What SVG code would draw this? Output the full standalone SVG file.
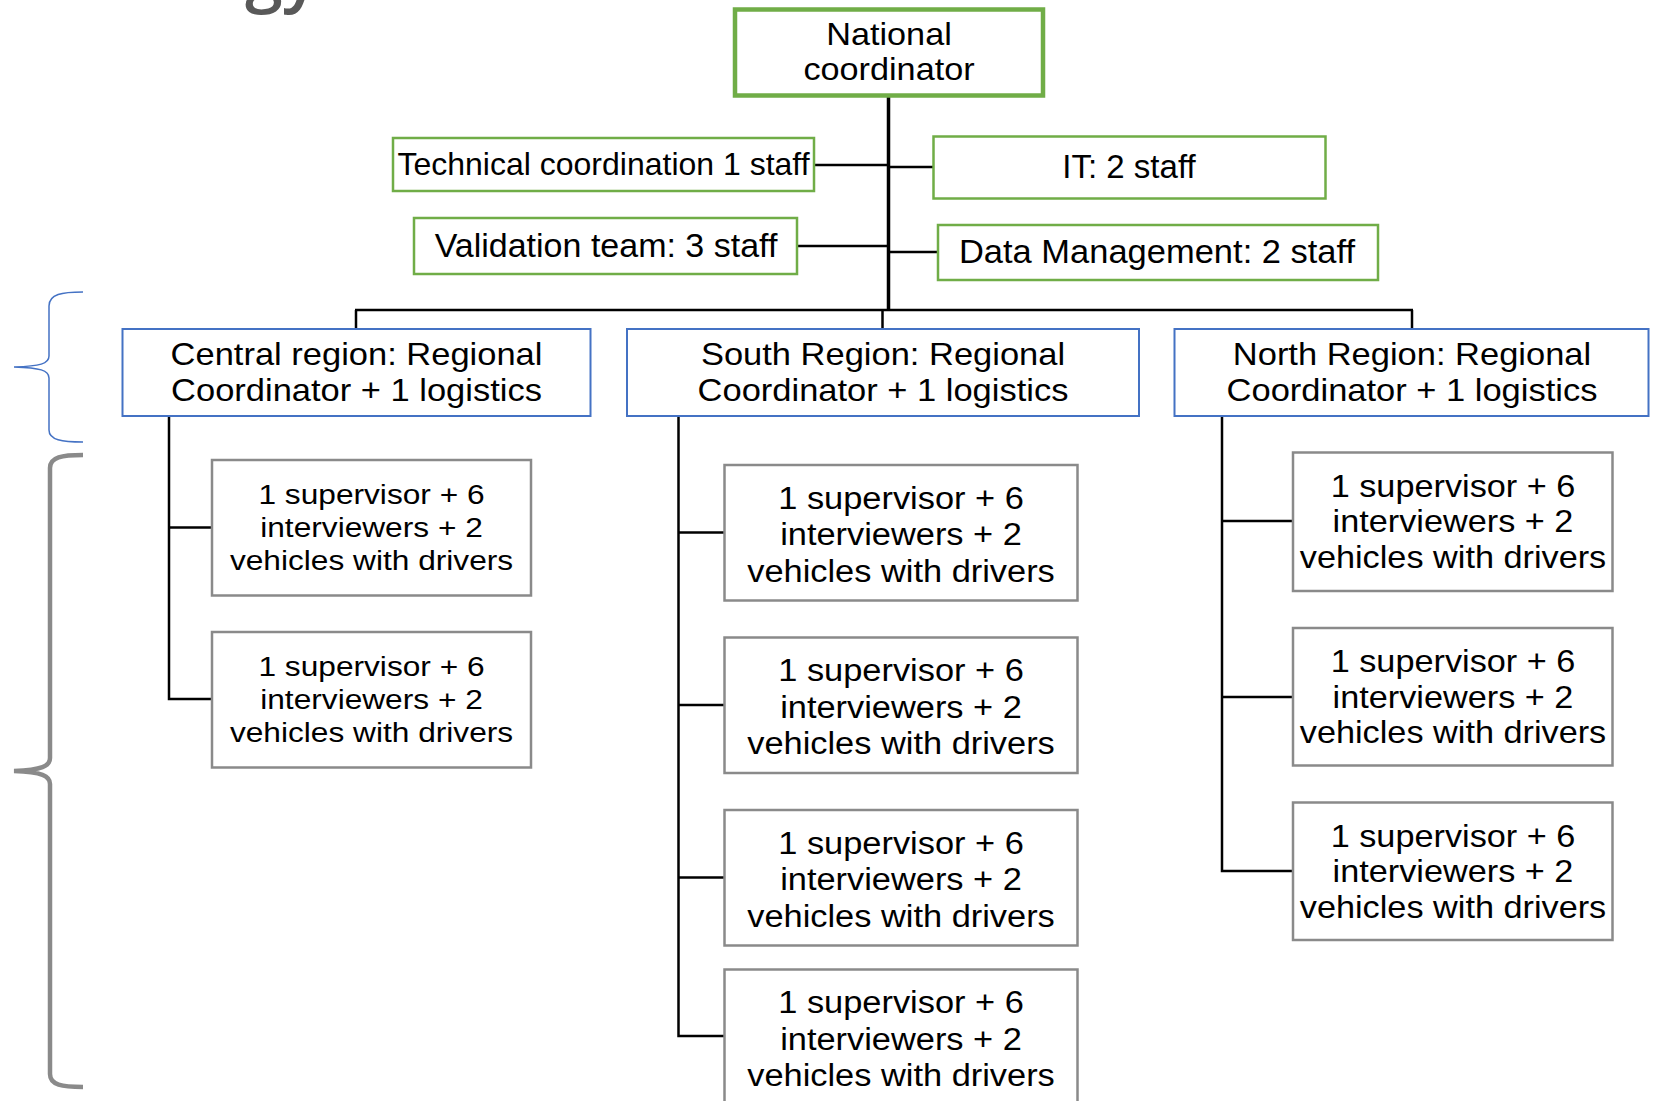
<svg xmlns="http://www.w3.org/2000/svg" width="1658" height="1101" viewBox="0 0 1658 1101">
<style>
text{font-family:"Liberation Sans",Arial,sans-serif;fill:#000;text-anchor:middle}
.g{fill:#fff;stroke:#70AD47;stroke-width:2.5}
.gt{fill:#fff;stroke:#70AD47;stroke-width:4.5}
.b{fill:#fff;stroke:#4472C4;stroke-width:2}
.s{fill:#fff;stroke:#8A8A8A;stroke-width:2.5}
.c line,.c path{stroke:#000;stroke-width:2.5;fill:none}
.title{font-family:"Open Sans","Noto Sans",sans-serif;fill:#595959;text-anchor:end;font-size:68px;font-weight:600}
</style>
<rect width="1658" height="1101" fill="#fff"/>
<text class="title" x="319" y="-2">gy</text>

<g id="braces" fill="none">
<path d="M83 292 C62 292 49 294 49 306 L49 356 C49 364 40 366 14 367 C40 368 49 370 49 378 L49 430 C49 440 62 442 83 442" stroke="#4472C4" stroke-width="1.5"/>
<path d="M83 455 C62 455 50 457 50 468 L50 758 C50 766 42 770 14 771 C42 772 50 776 50 784 L50 1074 C50 1085 62 1087 83 1087" stroke="#8A8A8A" stroke-width="4.5"/>
</g>

<g id="connectors" class="c">
<line x1="888.5" y1="97" x2="888.5" y2="311" style="stroke-width:3.5"/>
<line x1="814" y1="165" x2="888" y2="165"/>
<line x1="888" y1="167" x2="933" y2="167"/>
<line x1="798" y1="246" x2="888" y2="246"/>
<line x1="888" y1="252" x2="938" y2="252"/>
<line x1="355" y1="310" x2="1413" y2="310"/>
<line x1="356" y1="310" x2="356" y2="329"/>
<line x1="882.5" y1="310" x2="882.5" y2="329"/>
<line x1="1412" y1="310" x2="1412" y2="329"/>
<path d="M169 416 V699 H212"/>
<line x1="169" y1="527.5" x2="212" y2="527.5"/>
<path d="M678.5 416 V1036 H725"/>
<line x1="678.5" y1="532.5" x2="725" y2="532.5"/>
<line x1="678.5" y1="705" x2="725" y2="705"/>
<line x1="678.5" y1="877.5" x2="725" y2="877.5"/>
<path d="M1222 416 V871 H1293"/>
<line x1="1222" y1="521" x2="1293" y2="521"/>
<line x1="1222" y1="697" x2="1293" y2="697"/>
</g>

<g id="national">
<rect class="gt" x="735" y="9.5" width="308" height="86"/>
<text font-size="32" transform="translate(889 0) scale(1.07 1)"><tspan x="0" y="45">National</tspan><tspan x="0" y="80">coordinator</tspan></text>
</g>
<g id="technical">
<rect class="g" x="393" y="138" width="421" height="53"/>
<text font-size="32" x="603.5" y="175">Technical coordination 1 staff</text>
</g>
<g id="it">
<rect class="g" x="933.5" y="136.5" width="392" height="62"/>
<text font-size="33" x="1129" y="177.5">IT: 2 staff</text>
</g>
<g id="validation">
<rect class="g" x="414" y="218" width="383" height="56"/>
<text font-size="34" x="606" y="257">Validation team: 3 staff</text>
</g>
<g id="datamgmt">
<rect class="g" x="938" y="225" width="440" height="55"/>
<text font-size="33" transform="translate(1157 0) scale(1.045 1)" x="0" y="263.5">Data Management: 2 staff</text>
</g>

<g id="central">
<rect class="b" x="122.5" y="329" width="468" height="87"/>
<text font-size="31.5" transform="translate(356.5 0) scale(1.095 1)"><tspan x="0" y="365">Central region: Regional</tspan><tspan x="0" y="401">Coordinator + 1 logistics</tspan></text>
</g>
<g id="south">
<rect class="b" x="627" y="329" width="512" height="87"/>
<text font-size="31.5" transform="translate(883 0) scale(1.095 1)"><tspan x="0" y="365">South Region: Regional</tspan><tspan x="0" y="401">Coordinator + 1 logistics</tspan></text>
</g>
<g id="north">
<rect class="b" x="1174.5" y="329" width="474" height="87"/>
<text font-size="31.5" transform="translate(1412 0) scale(1.095 1)"><tspan x="0" y="365">North Region: Regional</tspan><tspan x="0" y="401">Coordinator + 1 logistics</tspan></text>
</g>

<g id="central-team-1">
<rect class="s" x="212" y="460" width="319" height="135.5"/>
<text font-size="28.4" transform="translate(371.5 0) scale(1.115 1)"><tspan x="0" y="504">1 supervisor + 6</tspan><tspan x="0" y="536.8">interviewers + 2</tspan><tspan x="0" y="569.6">vehicles with drivers</tspan></text>
</g>
<g id="central-team-2">
<rect class="s" x="212" y="632" width="319" height="135.5"/>
<text font-size="28.4" transform="translate(371.5 0) scale(1.115 1)"><tspan x="0" y="676.5">1 supervisor + 6</tspan><tspan x="0" y="709.3">interviewers + 2</tspan><tspan x="0" y="742.1">vehicles with drivers</tspan></text>
</g>

<g id="south-team-1">
<rect class="s" x="724.5" y="465" width="353" height="135.5"/>
<text font-size="31.7" transform="translate(901 0) scale(1.085 1)"><tspan x="0" y="509">1 supervisor + 6</tspan><tspan x="0" y="545.5">interviewers + 2</tspan><tspan x="0" y="582">vehicles with drivers</tspan></text>
</g>
<g id="south-team-2">
<rect class="s" x="724.5" y="637.5" width="353" height="135.5"/>
<text font-size="31.7" transform="translate(901 0) scale(1.085 1)"><tspan x="0" y="681.5">1 supervisor + 6</tspan><tspan x="0" y="718">interviewers + 2</tspan><tspan x="0" y="754.5">vehicles with drivers</tspan></text>
</g>
<g id="south-team-3">
<rect class="s" x="724.5" y="810" width="353" height="135.5"/>
<text font-size="31.7" transform="translate(901 0) scale(1.085 1)"><tspan x="0" y="854">1 supervisor + 6</tspan><tspan x="0" y="890.5">interviewers + 2</tspan><tspan x="0" y="927">vehicles with drivers</tspan></text>
</g>
<g id="south-team-4">
<rect class="s" x="724.5" y="969.5" width="353" height="135"/>
<text font-size="31.7" transform="translate(901 0) scale(1.085 1)"><tspan x="0" y="1013.5">1 supervisor + 6</tspan><tspan x="0" y="1050">interviewers + 2</tspan><tspan x="0" y="1086.5">vehicles with drivers</tspan></text>
</g>

<g id="north-team-1">
<rect class="s" x="1293" y="452.5" width="319.5" height="138.5"/>
<text font-size="30.6" transform="translate(1453 0) scale(1.12 1)"><tspan x="0" y="497">1 supervisor + 6</tspan><tspan x="0" y="532.3">interviewers + 2</tspan><tspan x="0" y="567.6">vehicles with drivers</tspan></text>
</g>
<g id="north-team-2">
<rect class="s" x="1293" y="628" width="319.5" height="137.5"/>
<text font-size="30.6" transform="translate(1453 0) scale(1.12 1)"><tspan x="0" y="672.5">1 supervisor + 6</tspan><tspan x="0" y="707.8">interviewers + 2</tspan><tspan x="0" y="743.1">vehicles with drivers</tspan></text>
</g>
<g id="north-team-3">
<rect class="s" x="1293" y="802.5" width="319.5" height="137.5"/>
<text font-size="30.6" transform="translate(1453 0) scale(1.12 1)"><tspan x="0" y="847">1 supervisor + 6</tspan><tspan x="0" y="882.3">interviewers + 2</tspan><tspan x="0" y="917.6">vehicles with drivers</tspan></text>
</g>
</svg>
